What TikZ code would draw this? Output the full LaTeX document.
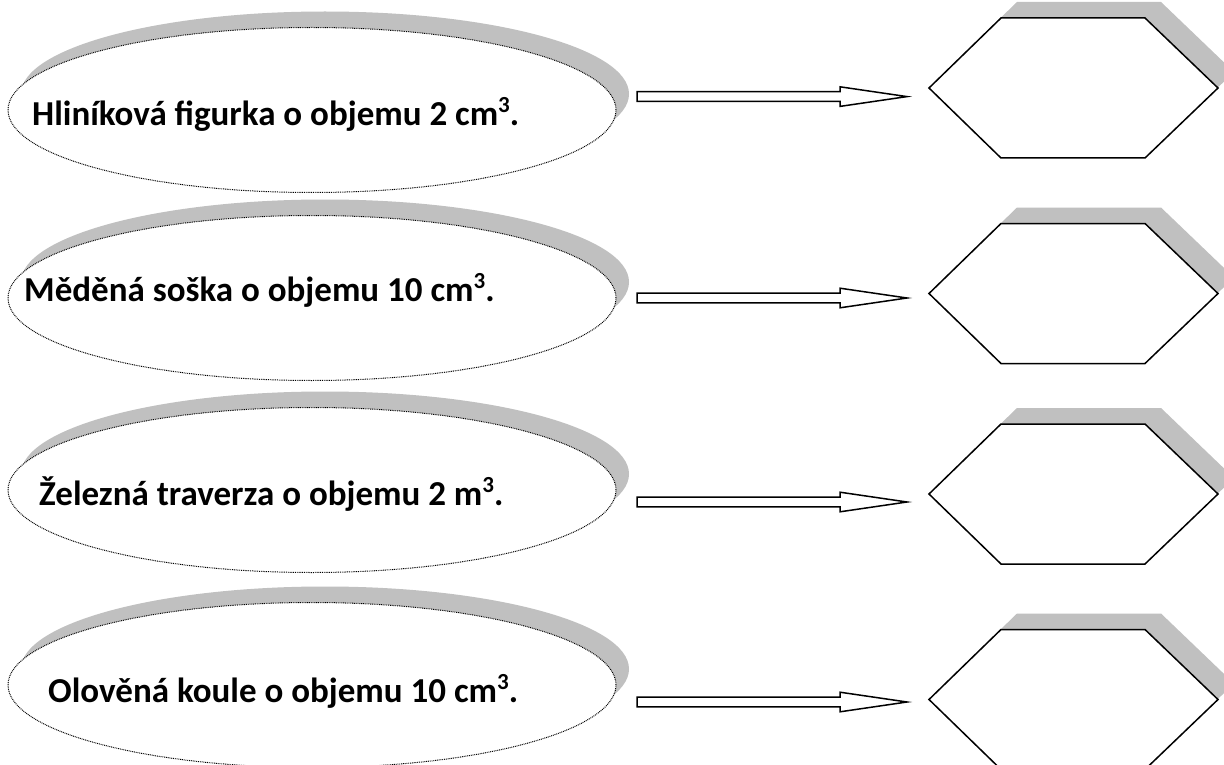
\documentclass[tikz,border=0pt]{standalone}
\usepackage{fontspec}
\setmainfont{Carlito}
\usetikzlibrary{shapes.geometric,calc}
\definecolor{shade}{RGB}{192,192,192}
\newcommand{\supiii}{\raisebox{13pt}{\fontsize{23}{23}\selectfont 3}}
\tikzset{
  oval/.style={ellipse, draw=black, dash pattern=on 0.9pt off 0.9pt, line width=1pt,
    fill=white, minimum width=608pt, minimum height=165pt, inner sep=0pt, outer sep=0pt},
  ovalshadow/.style={ellipse, fill=shade, minimum width=608pt, minimum height=165pt,
    inner sep=0pt, outer sep=0pt},
  lbl/.style={anchor=base west, inner sep=0pt, font=\fontsize{35}{42}\selectfont\bfseries},
  hexline/.style={draw=black, line width=1.5pt, fill=white, line join=miter},
  hexshadow/.style={fill=shade},
  blockarrow/.style={draw=black, line width=1.5pt, fill=white, line join=miter},
}
\begin{document}
\begin{tikzpicture}[x=1pt,y=-1pt]
\useasboundingbox (0,0) rectangle (1224,765);
\clip (0,0) rectangle (1224,765);
\fill[white] (0,0) rectangle (1224,765);

% ellipses
\foreach \i/\cy in {1/110,2/298,3/490,4/685}{
  \node[ovalshadow] (s\i) at (312+13,\cy-16) {};
  \node[oval] (e\i) at (312,\cy) {};
}
% labels
\node[lbl] (t1) at (32,126) {Hliníková figurka o objemu 2 cm\supiii.};
\node[lbl] (t2) at (24,301) {Měděná soška o objemu 10 cm\supiii.};
\node[lbl] (t3) at (39,505) {Železná traverza o objemu 2 m\supiii.};
\node[lbl] (t4) at (48,702) {Olověná koule o objemu 10 cm\supiii.};

% hexagons
\foreach \i/\cy in {1/88,2/293.5,3/494,4/699.5}{
  \coordinate (h\i) at (1073.5,\cy);
  \fill[hexshadow] ($(h\i)+(16,-16)+(-144.5,0)$) -- ($(h\i)+(16,-16)+(-72.5,-70)$)
    -- ($(h\i)+(16,-16)+(71.5,-70)$) -- ($(h\i)+(16,-16)+(144.5,0)$)
    -- ($(h\i)+(16,-16)+(71.5,70)$) -- ($(h\i)+(16,-16)+(-72.5,70)$) -- cycle;
  \draw[hexline] ($(h\i)+(-144.5,0)$) -- ($(h\i)+(-72.5,-70)$)
    -- ($(h\i)+(71.5,-70)$) -- ($(h\i)+(144.5,0)$)
    -- ($(h\i)+(71.5,70)$) -- ($(h\i)+(-72.5,70)$) -- cycle;
}

% block arrows
\foreach \i/\ay in {1/96.6,2/298,3/502,4/702}{
  \coordinate (as\i) at (637,\ay);
  \coordinate (ae\i) at (907,\ay);
  \draw[blockarrow] ($(as\i)+(0,-4.9)$) -- ($(ae\i)+(-67,-4.9)$) -- ($(ae\i)+(-67,-9.8)$)
    -- (ae\i) -- ($(ae\i)+(-67,9.8)$) -- ($(ae\i)+(-67,4.9)$) -- ($(as\i)+(0,4.9)$) -- cycle;
}
\end{tikzpicture}
\end{document}
